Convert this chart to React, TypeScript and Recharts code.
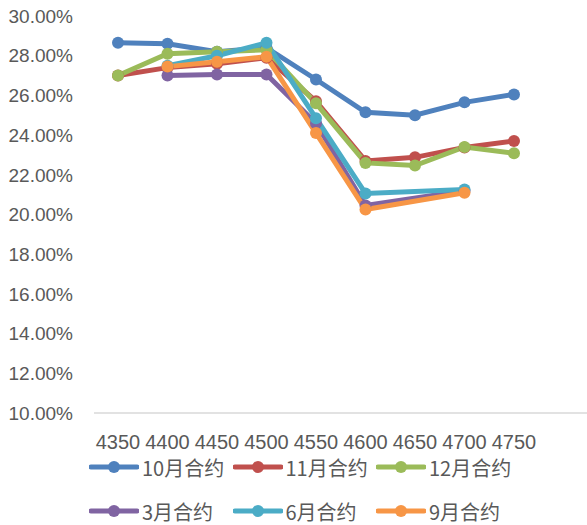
import { Legend, Line, LineChart, XAxis, YAxis } from "recharts";

const strikes = ["4350", "4400", "4450", "4500", "4550", "4600", "4650", "4700", "4750"];

// implied vol per contract month, in %
const oct = [28.65, 28.6, 28.2, 28.4, 26.8, 25.15, 25.0, 25.65, 26.05];
const nov = [27.0, 27.4, 27.6, 27.9, 25.7, 22.7, 22.88, 23.38, 23.7];
const dec = [27.0, 28.1, 28.2, 28.3, 25.6, 22.6, 22.47, 23.4, 23.08];
const mar = [null, 27.0, 27.05, 27.05, 24.6, 20.45, null, 21.2, null];
const jun = [null, 27.5, 28.0, 28.65, 24.85, 21.06, null, 21.26, null];
const sep = [null, 27.45, 27.7, 27.95, 24.1, 20.25, null, 21.1, null];

const yTicks = [10, 12, 14, 16, 18, 20, 22, 24, 26, 28, 30];

const series = [
  { key: "oct", name: "10月合约", color: "#4f81bd", values: oct },
  { key: "nov", name: "11月合约", color: "#c0504d", values: nov },
  { key: "dec", name: "12月合约", color: "#9bbb59", values: dec },
  { key: "mar", name: "3月合约", color: "#8064a2", values: mar },
  { key: "jun", name: "6月合约", color: "#4bacc6", values: jun },
  { key: "sep", name: "9月合约", color: "#f79646", values: sep },
];

const data = strikes.map((s, i) => {
  const row: Record<string, string | number | null> = { strike: s };
  series.forEach((sr) => {
    row[sr.key] = sr.values[i];
  });
  return row;
});

const numFont = "'Liberation Sans', Arial, sans-serif";
const cjkFont = "'Noto Sans CJK SC', 'Liberation Sans', sans-serif";

function renderLegend() {
  const rows = [series.slice(0, 3), series.slice(3)];
  return (
    <div style={{ paddingLeft: 89 }}>
      {rows.map((row, ri) => (
        <div key={ri} style={{ display: "flex", height: 44, alignItems: "center" }}>
          {row.map((s) => (
            <div key={s.key} style={{ width: 143.5, display: "flex", alignItems: "center" }}>
              <svg width={50} height={14}>
                <line x1={2} y1={7} x2={48} y2={7} stroke={s.color} strokeWidth={5} strokeLinecap="round" />
                <circle cx={25} cy={7} r={6} fill={s.color} />
              </svg>
              <span
                style={{
                  marginLeft: 3,
                  fontFamily: cjkFont,
                  fontSize: 20,
                  color: "#595959",
                  whiteSpace: "nowrap",
                }}
              >
                {s.name}
              </span>
            </div>
          ))}
        </div>
      ))}
    </div>
  );
}

export default function App() {
  return (
    <div style={{ position: "absolute", left: 0, top: 0, background: "#fff" }}>
      <LineChart width={587} height={525} data={data} margin={{ top: 16, right: 0, bottom: 0, left: 0 }}>
        <XAxis
          dataKey="strike"
          padding={{ left: 24, right: 73 }}
          height={32}
          tickLine={false}
          tickSize={0}
          tickMargin={22}
          axisLine={{ stroke: "#d9d9d9", strokeWidth: 1.5 }}
          tick={{ fontSize: 20, fill: "#595959", fontFamily: numFont }}
          interval={0}
        />
        <YAxis
          domain={[10, 30]}
          ticks={yTicks}
          width={94}
          axisLine={false}
          tickLine={false}
          tickSize={0}
          tickMargin={21}
          tickFormatter={(v) => `${Number(v).toFixed(2)}%`}
          tick={{ fontSize: 19, fill: "#595959", fontFamily: numFont }}
        />
        <Legend verticalAlign="bottom" height={80} content={renderLegend} />
        {series.map((s) => (
          <Line
            key={s.key}
            dataKey={s.key}
            name={s.name}
            type="linear"
            stroke={s.color}
            strokeWidth={5}
            dot={{ r: 6, fill: s.color, stroke: s.color, strokeWidth: 0 }}
            activeDot={false}
            connectNulls
            isAnimationActive={false}
          />
        ))}
      </LineChart>
    </div>
  );
}
